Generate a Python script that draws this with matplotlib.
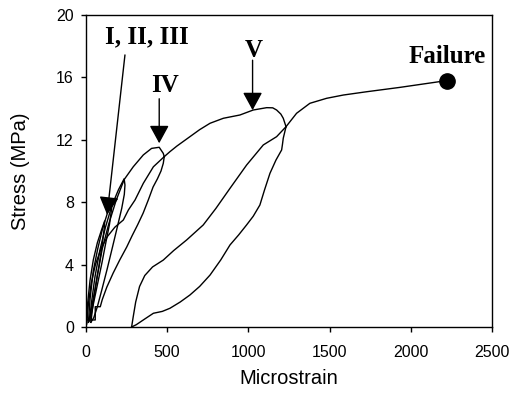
import numpy as np
import matplotlib
matplotlib.use("Agg")
from matplotlib import pyplot as plt

# ciclos de carga I, II y III (cerca del origen)
c1_x = [0, 10, 25, 45, 70, 95, 115, 112, 100, 80, 55, 32, 15]
c1_y = [0, 1.5, 3.0, 4.3, 5.4, 6.2, 6.8, 6.3, 5.3, 3.9, 2.4, 1.1, 0.3]
c2_x = [15, 25, 45, 72, 102, 132, 160, 158, 145, 122, 98, 72, 50, 32, 22]
c2_y = [0.3, 1.8, 3.6, 5.0, 6.3, 7.3, 8.0, 7.6, 6.6, 5.4, 4.1, 2.8, 1.7, 0.8, 0.4]
c3_x = [22, 33, 55, 85, 120, 160, 200, 235, 240, 236, 220, 195, 165, 130, 98, 70, 48, 30]
c3_y = [0.4, 1.5, 3.2, 4.9, 6.4, 7.8, 8.8, 9.5, 9.1, 8.5, 7.6, 6.5, 5.2, 3.7, 2.4, 1.3, 0.6, 0.3]

# ciclo IV: carga, descarga y recarga
c4_load_x = [30, 45, 70, 100, 140, 185, 235, 291, 353, 404, 451, 476, 482]
c4_load_y = [0.3, 1.6, 3.3, 5.0, 6.6, 8.1, 9.45, 10.27, 11.03, 11.45, 11.52, 11.13, 10.92]
c4_unl_x = [482, 476, 462, 440, 413, 384, 352, 318, 284, 251, 208, 167, 128, 100, 88, 68, 57, 57, 5]
c4_unl_y = [10.92, 10.49, 10.0, 9.5, 8.97, 8.15, 7.3, 6.55, 5.85, 5.13, 4.3, 3.45, 2.55, 1.75, 1.3, 1.3, 1.3, 0.45, 0.45]
c4_rel_x = [5, 15, 32, 58, 92, 132, 178, 230, 261, 302, 353, 415, 482]
c4_rel_y = [0.2, 1.5, 2.8, 4.0, 5.0, 5.8, 6.4, 6.86, 7.5, 8.14, 9.21, 10.27, 10.92]

# ciclo V
c5_load_x = [482, 517, 560, 640, 700, 764, 846, 948, 1030, 1113, 1150, 1174, 1200, 1215, 1232]
c5_load_y = [10.92, 11.24, 11.6, 12.2, 12.65, 13.06, 13.38, 13.59, 13.91, 14.06, 14.05, 13.91, 13.65, 13.38, 12.84]
c5_unl_x = [1232, 1215, 1210, 1205, 1170, 1133, 1100, 1071, 1030, 989, 940, 887, 830, 764,
            700, 640, 580, 517, 470, 415, 360, 310, 281]
c5_unl_y = [12.84, 12.1, 11.7, 11.35, 10.7, 9.85, 8.8, 7.82, 7.1, 6.54, 5.9, 5.26, 4.3, 3.33,
            2.6, 2.05, 1.6, 1.2, 1.0, 0.88, 0.5, 0.15, 0.0]
c5_rel_x = [281, 290, 306, 330, 362, 410, 476, 540, 620, 722, 800, 887, 989, 1092, 1174, 1232]
c5_rel_y = [0, 0.6, 1.6, 2.6, 3.3, 3.85, 4.29, 4.9, 5.58, 6.54, 7.6, 8.89, 10.38, 11.67, 12.2, 12.84]

# carga final hasta la falla
fin_x = [1232, 1297, 1379, 1482, 1585, 1728, 1933, 2225]
fin_y = [12.84, 13.7, 14.34, 14.66, 14.87, 15.08, 15.36, 15.8]
falla = (2225, 15.8)

xticks = [0, 500, 1000, 1500, 2000, 2500]
yticks = [0, 4, 8, 12, 16, 20]

plt.rcParams['font.family'] = ['Liberation Sans', 'DejaVu Sans']
serif = dict(family=['Liberation Serif', 'DejaVu Serif'], fontweight='bold', fontsize=18)

fig = plt.figure(figsize=(5.14, 3.98), dpi=100)
ax = fig.add_axes([0.1673, 0.1784, 0.7897, 0.7839])

curvas = [(c1_x, c1_y), (c2_x, c2_y), (c3_x, c3_y),
          (c4_load_x, c4_load_y), (c4_unl_x, c4_unl_y), (c4_rel_x, c4_rel_y),
          (c5_load_x, c5_load_y), (c5_unl_x, c5_unl_y), (c5_rel_x, c5_rel_y),
          (fin_x, fin_y)]
for cx, cy in curvas:
    ax.plot(cx, cy, color='black', lw=1.0)
ax.plot(falla[0], falla[1], 'o', color='black', markersize=11)

# flechas y etiquetas
flecha = dict(arrowstyle='-|>,head_length=0.55,head_width=0.3', color='black',
              lw=1.0, shrinkA=0, shrinkB=0, mutation_scale=20)
ax.annotate('', xy=(130, 7.2), xytext=(240, 17.44), arrowprops=flecha)
ax.annotate('', xy=(451, 11.78), xytext=(451, 14.63), arrowprops=flecha)
ax.annotate('', xy=(1026, 13.9), xytext=(1026, 17.1), arrowprops=flecha)
ax.text(376, 18.19, 'I, II, III', ha='center', va='baseline', **serif)
ax.text(486, 15.08, 'IV', ha='center', va='baseline', **serif)
ax.text(1033, 17.33, 'V', ha='center', va='baseline', **serif)
ax.text(2226, 16.94, 'Failure', ha='center', va='baseline', **serif)

ax.set_xlim(0, 2500)
ax.set_ylim(0, 20)
ax.set_xticks(xticks)
ax.set_yticks(yticks)
ax.tick_params(direction='out', length=3.8, width=1, labelsize=11.5)
ax.tick_params(axis='x', pad=9)
ax.tick_params(axis='y', pad=5)
for s in ax.spines.values():
    s.set_linewidth(1)
ax.set_xlabel('Microstrain', fontsize=14.5, labelpad=7)
ax.set_ylabel('Stress (MPa)', fontsize=14.5, labelpad=19)

plt.savefig('out.png', dpi=100)
